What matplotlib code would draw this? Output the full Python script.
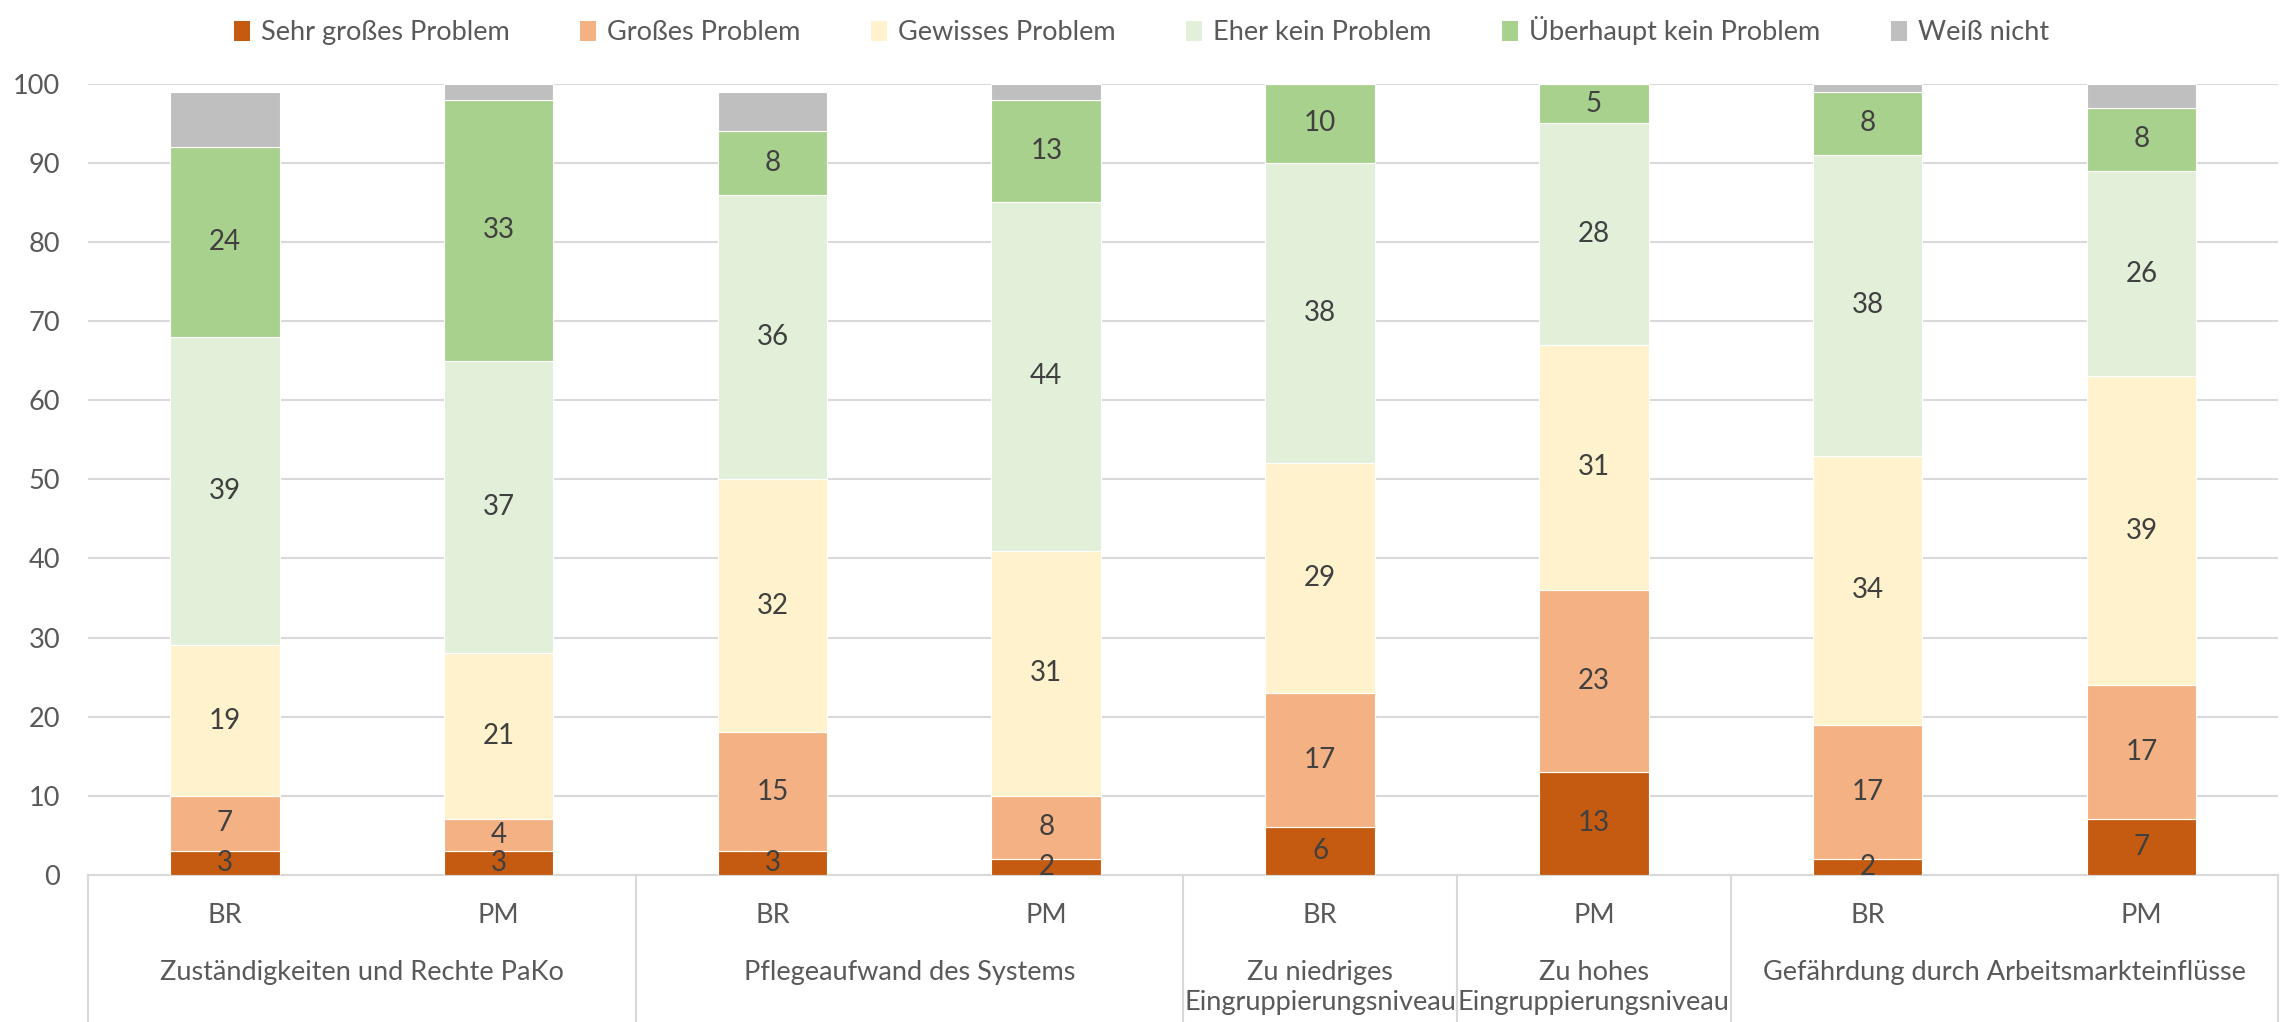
import numpy as np
import matplotlib
matplotlib.use("Agg")
import matplotlib.pyplot as plt
from matplotlib.patches import Patch

plt.rcParams['font.family'] = ['Lato', 'DejaVu Sans']

# ---- data ------------------------------------------------------------
bar_labels = ["BR", "PM", "BR", "PM", "BR", "PM", "BR", "PM"]
groups = [("Zuständigkeiten und Rechte PaKo", 0, 1),
          ("Pflegeaufwand des Systems", 2, 3),
          ("Zu niedriges\nEingruppierungsniveau", 4, 4),
          ("Zu hohes\nEingruppierungsniveau", 5, 5),
          ("Gefährdung durch Arbeitsmarkteinflüsse", 6, 7)]

series_names = ["Sehr großes Problem", "Großes Problem", "Gewisses Problem",
                "Eher kein Problem", "Überhaupt kein Problem", "Weiß nicht"]
sehr_gross   = [3, 3, 3, 2, 6, 13, 2, 7]
gross        = [7, 4, 15, 8, 17, 23, 17, 17]
gewiss       = [19, 21, 32, 31, 29, 31, 34, 39]
eher_kein    = [39, 37, 36, 44, 38, 28, 38, 26]
ueberhaupt   = [24, 33, 8, 13, 10, 5, 8, 8]
weiss_nicht  = [7, 2, 5, 2, 0, 0, 1, 3]

colors = ["#C55A11", "#F4B183", "#FFF2CC", "#E2F0D9", "#A9D18E", "#BFBFBF"]
show_labels = [True, True, True, True, True, False]

# ---- figure ----------------------------------------------------------
fig = plt.figure(figsize=(22.83, 10.22), dpi=100)
ax = fig.add_axes([0.0385, 0.144, 0.9595, 0.774])

x = np.arange(len(bar_labels))
bottom = np.zeros(len(x))
all_series = [sehr_gross, gross, gewiss, eher_kein, ueberhaupt, weiss_nicht]
for vals, col, name, lab in zip(all_series, colors, series_names, show_labels):
    vals = np.array(vals, dtype=float)
    bars = ax.bar(x, vals, 0.4, bottom=bottom, color=col,
                  edgecolor="white", linewidth=0.8, label=name, zorder=3)
    if lab:
        for xi, v, b in zip(x, vals, bottom):
            if v > 0:
                ax.text(xi, b + v / 2, f"{int(v)}", ha="center", va="center",
                        fontsize=20, color="#404040", zorder=4)
    bottom += vals

ax.set_xlim(-0.5, 7.5)
ax.set_ylim(0, 100)
ax.set_yticks(range(0, 101, 10))
ax.yaxis.grid(True, color="#D9D9D9", linewidth=1.5, zorder=0)
ax.set_axisbelow(True)
for s in ["top", "right", "left"]:
    ax.spines[s].set_visible(False)
ax.spines["bottom"].set_color("#D9D9D9")
ax.spines["bottom"].set_linewidth(1.5)
ax.tick_params(axis="y", length=0, labelsize=19.5, labelcolor="#595959", pad=20)
ax.set_xticks(x, bar_labels)
ax.tick_params(axis="x", length=0, labelsize=19.5, labelcolor="#595959", pad=20)

# group separators and labels below the axis
trans = ax.get_xaxis_transform()
for sep in [-0.5, 1.5, 3.5, 4.5, 5.5, 7.5]:
    ax.plot([sep, sep], [0, -0.19], transform=trans, color="#D9D9D9",
            linewidth=1.5, clip_on=False)
for name, i0, i1 in groups:
    ax.annotate(name, xy=((i0 + i1) / 2, 0), xycoords=trans,
                xytext=(0, -61), textcoords="offset points",
                ha="center", va="top", fontsize=19.5, color="#595959",
                linespacing=1.25)

handles = [Patch(facecolor=c, edgecolor="none") for c in colors]
fig.legend(handles, series_names, loc="upper center", ncol=6,
           bbox_to_anchor=(0.5, 1.008), frameon=False, fontsize=19.5,
           labelcolor="#595959", handlelength=0.6, handleheight=0.75,
           handletextpad=0.4, columnspacing=2.6)

fig.savefig("out.png", dpi=100)
